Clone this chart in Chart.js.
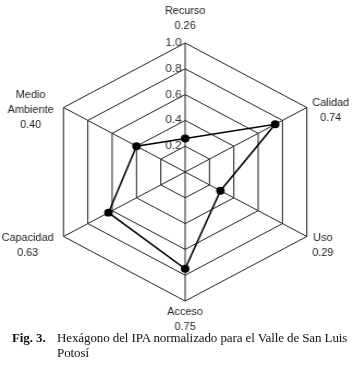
<!DOCTYPE html>
<html>
<head>
<meta charset="utf-8">
<script src="https://cdn.jsdelivr.net/npm/chart.js@4.4.1/dist/chart.umd.min.js"></script>
<style>
  body { margin: 0; background: #fff; width: 356px; height: 371px; overflow: hidden; position: relative; }
  #wrap { position: absolute; left: 0; top: 0; width: 327px; height: 334px; transform: scaleX(1.089); transform-origin: 0 0; }
  #caption { position: absolute; left: 12px; top: 330px; width: 344px; font-family: "Liberation Serif", "Times New Roman", serif; font-size: 13px; line-height: 15px; color: #111; letter-spacing: -0.1px; }
  #caption b { display: inline-block; width: 45px; }
  #caption .l2 { padding-left: 45px; }
</style>
</head>
<body>
<div id="wrap"><canvas id="radar"></canvas></div>
<div id="caption"><b>Fig. 3.</b>Hexágono del IPA normalizado para el Valle de San Luis<div class="l2">Potosí</div></div>
<script>
// --- data ---
const axisNames = [['Recurso'], ['Calidad'], ['Uso'], ['Acceso'], ['Capacidad'], ['Medio', 'Ambiente']];
const ipaValues = [0.26, 0.74, 0.29, 0.75, 0.63, 0.40];
const tickValues = [0.0, 0.2, 0.4, 0.6, 0.8, 1.0];

const labels = axisNames.map((name, i) => [...name, ipaValues[i].toFixed(2)]);

// axis names drawn next to the outer vertices, placed from the scale itself
const axisLabelPlugin = {
    id: 'axisLabels',
    afterDraw(chart) {
        const scale = chart.scales.r;
        const ctx = chart.ctx;
        const lh = 15;
        ctx.save();
        ctx.font = '10px "Liberation Sans", Arial, sans-serif';
        ctx.fillStyle = '#222';
        ctx.textAlign = 'center';
        ctx.textBaseline = 'middle';
        labels.forEach((lines, i) => {
            const p = scale.getPointPositionForValue(i, 1);
            const dx = p.x - scale.xCenter;
            const dy = p.y - scale.yCenter;
            const blockW = Math.max(...lines.map(l => ctx.measureText(l).width));
            const n = lines.length;
            let cx, firstY;
            if (Math.abs(dx) < 1) {
                cx = p.x;
                firstY = dy < 0 ? p.y - 17 - (n - 1) * lh : p.y + 11;
            } else {
                cx = dx > 0 ? p.x + 5 + blockW / 2 : p.x - 9 - blockW / 2;
                firstY = dy < 0 ? p.y + 3 - (n - 1) * lh / 2 : p.y + 2;
            }
            lines.forEach((l, k) => ctx.fillText(l, cx, firstY + k * lh));
        });
        ctx.restore();
    }
};

const ctx = document.getElementById('radar').getContext('2d');
new Chart(ctx, {
    type: 'radar',
    data: {
        labels: labels,
        datasets: [{
            data: ipaValues,
            borderColor: '#000',
            borderWidth: 1.5,
            backgroundColor: 'rgba(0,0,0,0)',
            fill: false,
            pointRadius: 3.2,
            pointBackgroundColor: '#000',
            pointBorderColor: '#000',
            tension: 0
        }]
    },
    options: {
        responsive: true,
        maintainAspectRatio: false,
        animation: false,
        // the scale keeps 7.5px of tick room on each side
        layout: { padding: { top: 35.5, bottom: 25.5, left: 33.5, right: 20.5 } },
        plugins: { legend: { display: false }, tooltip: { enabled: false } },
        scales: {
            r: {
                min: 0,
                max: 1,
                afterBuildTicks: (scale) => { scale.ticks = tickValues.map(v => ({ value: v })); },
                ticks: {
                    // trailing spaces push the label to the left of the axis
                    callback: (v) => v.toFixed(1) + '       ',
                    showLabelBackdrop: false,
                    color: '#333',
                    font: { family: 'Liberation Sans, Arial, sans-serif', size: 11 }
                },
                grid: { color: '#222', lineWidth: 1, circular: false },
                angleLines: { color: '#222', lineWidth: 1 },
                pointLabels: { display: false }
            }
        }
    },
    plugins: [axisLabelPlugin]
});
</script>
</body>
</html>
